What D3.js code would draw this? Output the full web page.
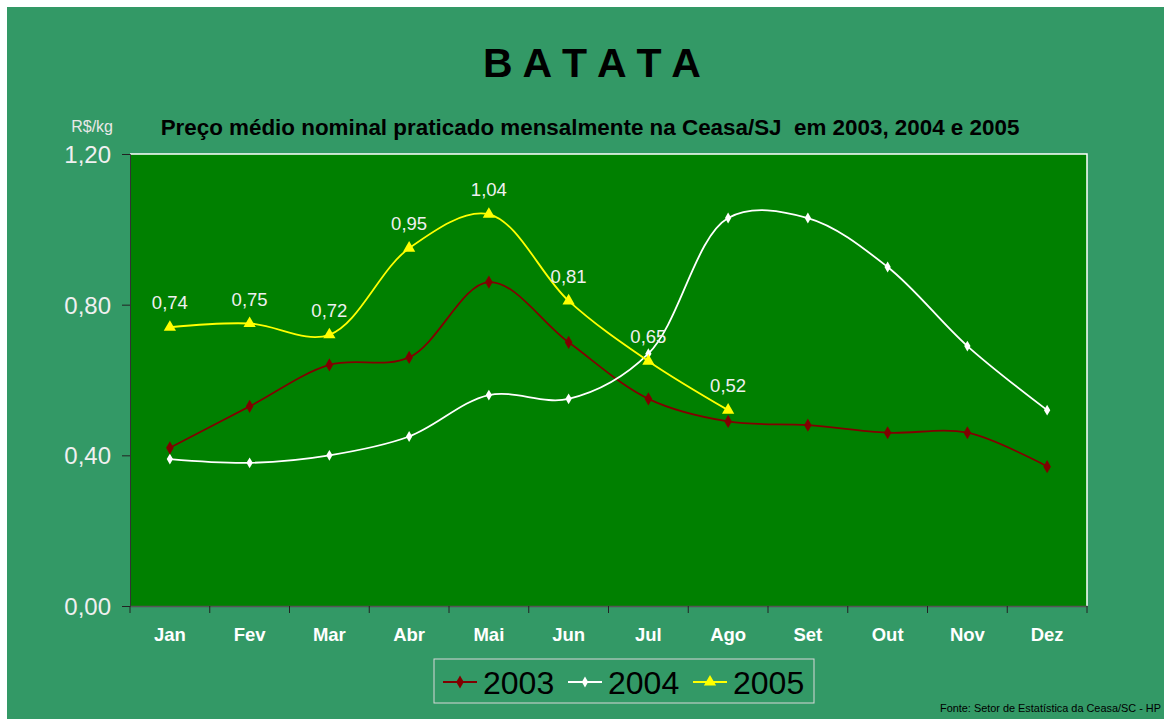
<!DOCTYPE html>
<html>
<head>
<meta charset="utf-8">
<script src="https://cdn.jsdelivr.net/npm/d3@7"></script>
<style>
    body { margin: 0; background: #ffffff; }
    svg { display: block; font-family: "Liberation Sans", Arial, sans-serif; }
</style>
</head>
<body>
<div id="chartdiv"></div>
<script>
// data
const months = ["Jan", "Fev", "Mar", "Abr", "Mai", "Jun", "Jul", "Ago", "Set", "Out", "Nov", "Dez"];
const years = ["2003", "2004", "2005"];
const values2003 = [0.42, 0.53, 0.64, 0.66, 0.86, 0.70, 0.55, 0.49, 0.48, 0.46, 0.46, 0.37];
const values2004 = [0.39, 0.38, 0.40, 0.45, 0.56, 0.55, 0.67, 1.03, 1.03, 0.90, 0.69, 0.52];
const values2005 = [0.74, 0.75, 0.72, 0.95, 1.04, 0.81, 0.65, 0.52];
const yTicks = [0, 0.4, 0.8, 1.2];

// draw
{
    let width = 1164,
        height = 719,
        margin = { top: 154, right: 77, bottom: 113, left: 130 };

    let svg = d3.select("#chartdiv").append("svg")
        .attr("width", width)
        .attr("height", height);

    // outer background
    svg.append("rect")
        .attr("x", 7)
        .attr("y", 7)
        .attr("width", width - 7)
        .attr("height", height - 7)
        .attr("fill", "#339966");

    let x = d3.scaleBand()
        .domain(months)
        .range([margin.left, width - margin.right]);
    let y = d3.scaleLinear()
        .domain([0, 1.2])
        .range([height - margin.bottom, margin.top]);

    // plot area
    svg.append("rect")
        .attr("x", margin.left)
        .attr("y", margin.top)
        .attr("width", width - margin.left - margin.right)
        .attr("height", height - margin.top - margin.bottom)
        .attr("fill", "#008000");
    svg.append("path")
        .attr("d", "M" + margin.left + "," + margin.top + "H" + (width - margin.right) + "V" + (height - margin.bottom))
        .attr("stroke", "#ffffff")
        .attr("stroke-width", 1.5)
        .attr("fill", "none");

    // axes
    let yAxis = d3.axisLeft(y)
        .tickValues(yTicks)
        .tickSize(8)
        .tickPadding(11)
        .tickFormat(d => d3.format(".2f")(d).replace(".", ","));
    let gy = svg.append("g")
        .attr("transform", "translate(" + margin.left + ",0)")
        .call(yAxis);
    gy.select(".domain").attr("stroke", "#333333");
    gy.selectAll(".tick line").attr("stroke", "#222222");
    gy.selectAll(".tick text")
        .attr("fill", "#f0f0f0")
        .attr("font-size", 24)
        .attr("dy", "0.35em");

    let xAxis = d3.axisBottom(x)
        .tickSize(0)
        .tickPadding(22);
    let gx = svg.append("g")
        .attr("transform", "translate(0," + (height - margin.bottom) + ")")
        .call(xAxis);
    gx.select(".domain").attr("stroke", "#555555").attr("stroke-width", 1.5);
    gx.selectAll(".tick text")
        .attr("fill", "#ffffff")
        .attr("font-size", 18.5)
        .attr("font-weight", "bold")
        .attr("dy", "0.7em");
    // boundary ticks between months
    let bounds = months.map(m => x(m)).concat([width - margin.right]);
    gx.selectAll(".btick")
        .data(bounds)
        .enter()
        .append("line")
        .attr("class", "btick")
        .attr("x1", d => d)
        .attr("x2", d => d)
        .attr("y1", 0)
        .attr("y2", 7)
        .attr("stroke", "#222222");

    // series
    let series = [
        { name: years[0], values: values2003, color: "#800000", marker: d3.symbolDiamond, size: 50 },
        { name: years[1], values: values2004, color: "#ffffff", marker: d3.symbolDiamond, size: 34 },
        { name: years[2], values: values2005, color: "#ffff00", marker: d3.symbolTriangle, size: 65 }
    ];
    let line = d3.line()
        .x((d, i) => x(months[i]) + x.bandwidth() / 2)
        .y(d => y(d))
        .curve(d3.curveCatmullRom.alpha(0.5));

    series.forEach(function(s) {
        svg.append("path")
            .datum(s.values)
            .attr("d", line)
            .attr("fill", "none")
            .attr("stroke", s.color)
            .attr("stroke-width", 1.8);
        svg.selectAll(".pt" + s.name)
            .data(s.values)
            .enter()
            .append("path")
            .attr("class", "pt" + s.name)
            .attr("transform", (d, i) => "translate(" + (x(months[i]) + x.bandwidth() / 2) + "," + y(d) + ")")
            .attr("d", d3.symbol().type(s.marker).size(s.size))
            .attr("fill", s.color);
    });

    // data labels for 2005
    svg.selectAll(".lbl")
        .data(values2005)
        .enter()
        .append("text")
        .attr("class", "lbl")
        .attr("x", (d, i) => x(months[i]) + x.bandwidth() / 2)
        .attr("y", d => y(d) - 18)
        .attr("text-anchor", "middle")
        .attr("font-size", 18.5)
        .attr("fill", "#f0f0f0")
        .text(d => d3.format(".2f")(d).replace(".", ","));

    // titles
    svg.append("text")
        .attr("x", 592)
        .attr("y", 77)
        .attr("text-anchor", "middle")
        .attr("font-size", 41)
        .attr("font-weight", "bold")
        .attr("fill", "#000000")
        .text("B A T A T A");
    svg.append("text")
        .attr("x", 590)
        .attr("y", 135)
        .attr("text-anchor", "middle")
        .attr("font-size", 22.4)
        .attr("font-weight", "bold")
        .attr("fill", "#000000")
        .style("white-space", "pre")
        .text("Preço médio nominal praticado mensalmente na Ceasa/SJ  em 2003, 2004 e 2005");
    svg.append("text")
        .attr("x", 113)
        .attr("y", 132)
        .attr("text-anchor", "end")
        .attr("font-size", 16)
        .attr("fill", "#e8e8e8")
        .text("R$/kg");

    // legend
    {
        let lx = 434, ly = 659, lw = 380, lh = 44;
        svg.append("rect")
            .attr("x", lx)
            .attr("y", ly)
            .attr("width", lw)
            .attr("height", lh)
            .attr("fill", "none")
            .attr("stroke", "#d8d8d8")
            .attr("stroke-width", 1);
        let item_x = [443, 568, 693];
        series.forEach(function(s, i) {
            let cy = ly + 23;
            svg.append("line")
                .attr("x1", item_x[i])
                .attr("x2", item_x[i] + 34)
                .attr("y1", cy)
                .attr("y2", cy)
                .attr("stroke", s.color)
                .attr("stroke-width", 1.8);
            svg.append("path")
                .attr("transform", "translate(" + (item_x[i] + 17) + "," + cy + ")")
                .attr("d", d3.symbol().type(s.marker).size(s.size))
                .attr("fill", s.color);
            svg.append("text")
                .attr("x", item_x[i] + 40)
                .attr("y", cy + 12)
                .attr("font-size", 32)
                .attr("fill", "#000000")
                .text(s.name);
        });
    }

    // source
    svg.append("text")
        .attr("x", 940)
        .attr("y", 712)
        .attr("font-size", 10.9)
        .attr("fill", "#000000")
        .text("Fonte: Setor de Estatística da Ceasa/SC - HP");
}
</script>
</body>
</html>
